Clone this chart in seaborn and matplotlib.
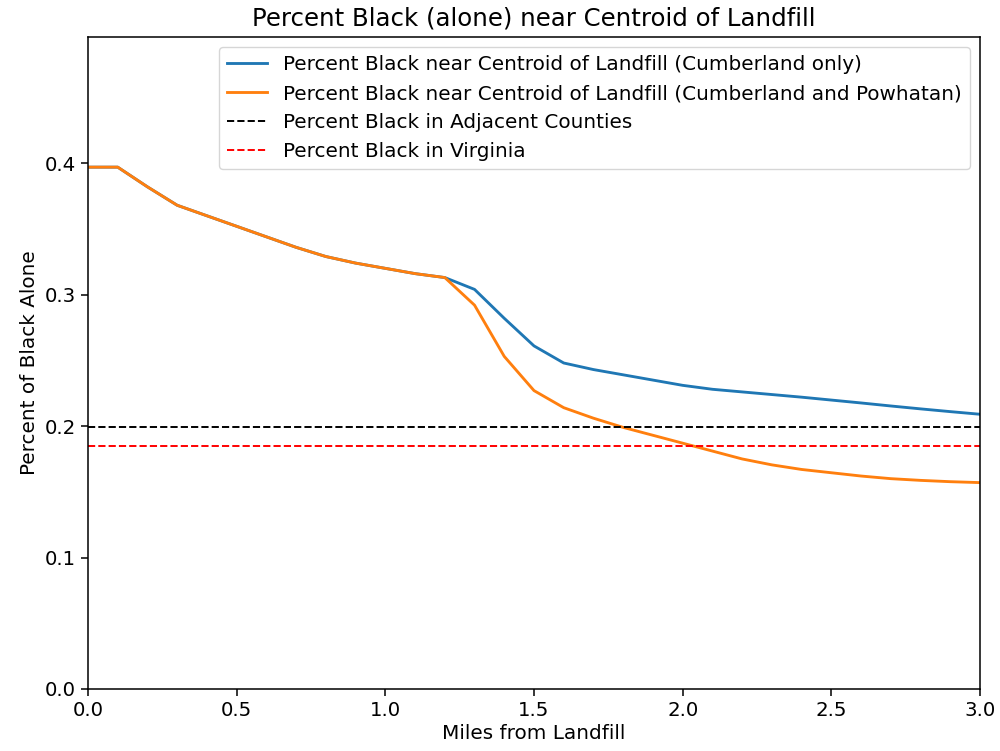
import numpy as np
import pandas as pd
import matplotlib
matplotlib.use('Agg')
import matplotlib.pyplot as plt
import seaborn as sns

# distance from the landfill centroid (miles)
miles = [0.0, 0.1, 0.2, 0.3, 0.4, 0.5, 0.6, 0.7, 0.8, 0.9, 1.0,
         1.1, 1.2, 1.3, 1.4, 1.5, 1.6, 1.7, 1.8, 1.9, 2.0,
         2.1, 2.2, 2.3, 2.4, 2.5, 2.6, 2.7, 2.8, 2.9, 3.0]

# share of Black (alone) population within each radius
cumberland_only = [0.397, 0.397, 0.382, 0.368, 0.360, 0.352, 0.344, 0.336, 0.329, 0.324, 0.320,
                   0.316, 0.313, 0.304, 0.282, 0.261, 0.248, 0.243, 0.239, 0.235, 0.231,
                   0.228, 0.226, 0.224, 0.222, 0.2198, 0.2176, 0.2153, 0.2131, 0.211, 0.209]
cumberland_powhatan = [0.397, 0.397, 0.382, 0.368, 0.360, 0.352, 0.344, 0.336, 0.329, 0.324, 0.320,
                       0.316, 0.313, 0.292, 0.253, 0.227, 0.214, 0.206, 0.199, 0.193, 0.187,
                       0.181, 0.175, 0.1705, 0.167, 0.1645, 0.162, 0.160, 0.1587, 0.1577, 0.157]

adjacent_counties = 0.199
virginia = 0.185

labels = ['Percent Black near Centroid of Landfill (Cumberland only)',
          'Percent Black near Centroid of Landfill (Cumberland and Powhatan)',
          'Percent Black in Adjacent Counties',
          'Percent Black in Virginia']

df = pd.DataFrame({'miles': miles,
                   'only': cumberland_only,
                   'both': cumberland_powhatan})

plt.rcParams['font.family'] = ['DejaVu Sans']
plt.rcParams['font.size'] = 14.4

fig, ax = plt.subplots(figsize=(10, 7.51), dpi=100)
fig.subplots_adjust(left=0.088, right=0.98, top=0.9507, bottom=0.0826)

sns.lineplot(data=df, x='miles', y='only', color='#1f77b4', linewidth=2.05,
             label=labels[0], ax=ax)
sns.lineplot(data=df, x='miles', y='both', color='#ff7f0e', linewidth=2.05,
             label=labels[1], ax=ax)
ax.axhline(adjacent_counties, color='k', linestyle='--', linewidth=1.4, label=labels[2])
ax.axhline(virginia, color='r', linestyle='--', linewidth=1.4, label=labels[3])

ax.set_xlim(0, 3)
ax.set_ylim(0, 0.496)
ax.set_yticks([0.0, 0.1, 0.2, 0.3, 0.4])
ax.set_title('Percent Black (alone) near Centroid of Landfill', fontsize=17.6, pad=8)
ax.set_xlabel('Miles from Landfill', labelpad=3)
ax.set_ylabel('Percent of Black Alone')
ax.tick_params(labelsize=14.2, length=5, width=1.1)
for s in ax.spines.values():
    s.set_linewidth(1.1)
ax.legend(loc='upper right', fontsize=14.4)

plt.savefig('out.png')
